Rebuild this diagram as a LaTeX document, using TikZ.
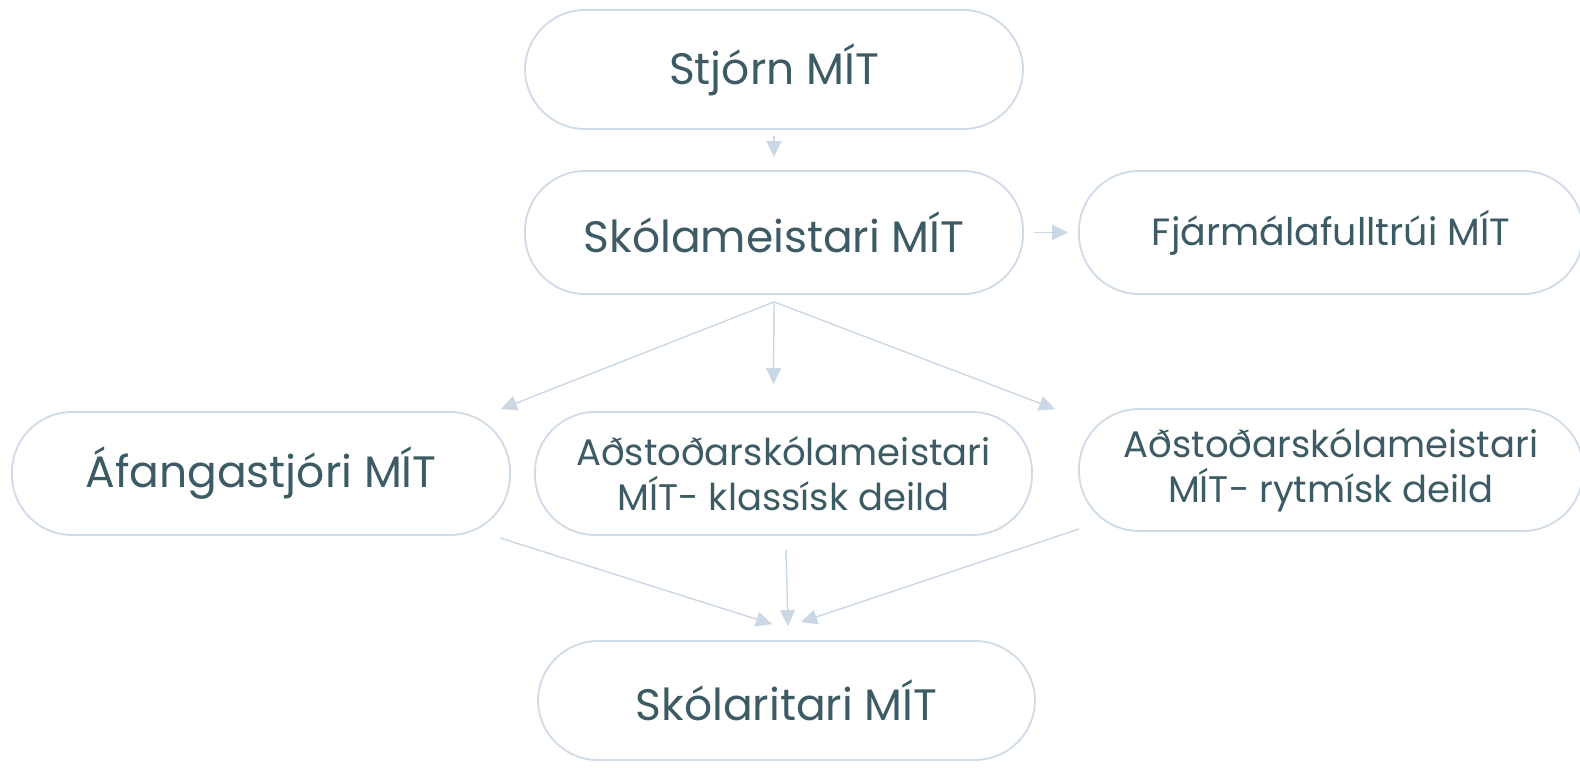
\documentclass[tikz,border=0pt]{standalone}
\usepackage{fontspec}
\setmainfont{Poppins}
\usetikzlibrary{arrows.meta}
\definecolor{bordc}{HTML}{CFDBE7}
\definecolor{arrc}{HTML}{CAD7E4}
\definecolor{txtc}{HTML}{3D5B64}
\tikzset{
  pill/.style={draw=bordc, line width=1.8pt, rounded corners=60pt, fill=white,
    text=txtc, align=center, inner sep=0pt, minimum width=498pt, minimum height=123pt},
  big/.style={font=\fontsize{44}{50}\selectfont},
  mid/.style={font=\fontsize{38}{45}\selectfont},
  two/.style={font=\fontsize{37}{45}\selectfont},
  arr/.style={draw=arrc, line width=1.4pt, -{Triangle[length=16pt,width=15pt]}}
}
\begin{document}
\begin{tikzpicture}[x=1pt,y=-1pt]
\useasboundingbox (0,0) rectangle (1580,768);
\node[pill,big,minimum height=119pt] (stjorn) at (774,69.5) {Stjórn MÍT};
\node[pill,big] (skola) at (774,232.5) {Skólameistari MÍT};
\node[pill,mid,minimum width=504pt] (fjar) at (1331,232.5) {Fjármálafulltrúi MÍT};
\node[pill,big] (afanga) at (261,473.5) {Áfangastjóri MÍT};
\node[pill,two,minimum width=497pt] (klass) at (783.5,473.5) {Aðstoðarskólameistari\\MÍT- klassísk deild};
\node[pill,two,minimum width=504pt,minimum height=122pt] (rytm) at (1331,470) {Aðstoðarskólameistari\\MÍT- rytmísk deild};
\node[pill,big,minimum width=497pt,minimum height=119pt] (ritari) at (786.5,700.5) {Skólaritari MÍT};

\draw[arr] ([yshift=-6pt]stjorn.south) -- ([yshift=13pt]skola.north);
\draw[arr] ([xshift=10pt]skola.east) -- ([xshift=-10pt]fjar.west);
\draw[arr] ([yshift=-7pt]skola.south) -- ([xshift=-10pt,yshift=2pt]afanga.north east);
\draw[arr] ([yshift=-7pt]skola.south) -- ([xshift=-10pt,yshift=27pt]klass.north);
\draw[arr] ([yshift=-7pt]skola.south) -- ([xshift=-23pt,yshift=-1pt]rytm.north west);
\draw[arr] ([xshift=-11pt,yshift=-2pt]afanga.south east) -- ([xshift=-14.5pt,yshift=16pt]ritari.north);
\draw[arr] ([xshift=2.5pt,yshift=-14pt]klass.south) -- ([xshift=1.5pt,yshift=14pt]ritari.north);
\draw[arr] ([xshift=1pt,yshift=3pt]rytm.south west) -- ([xshift=14.5pt,yshift=18pt]ritari.north);
\end{tikzpicture}
\end{document}
